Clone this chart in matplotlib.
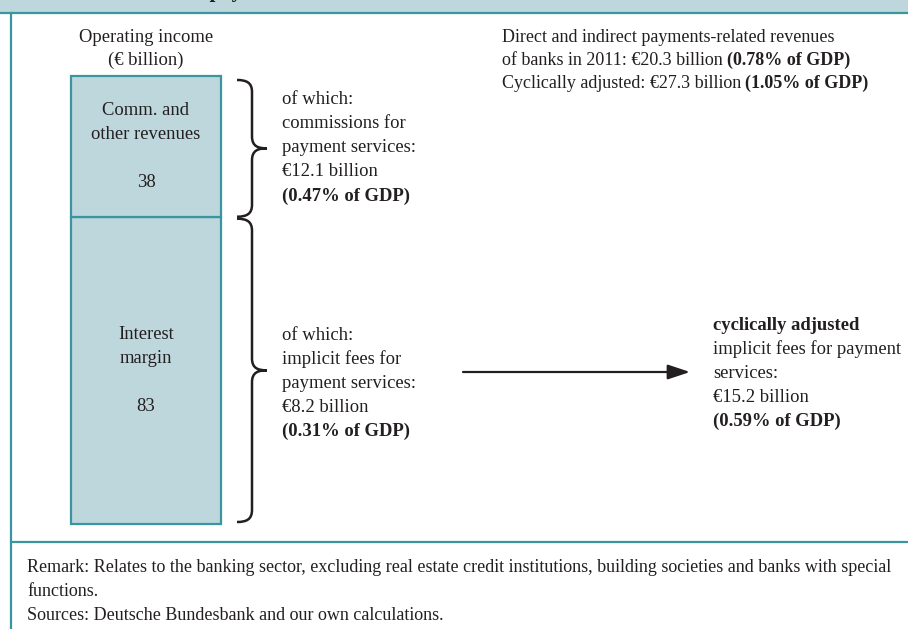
import matplotlib
matplotlib.use('Agg')
import matplotlib.pyplot as plt
from matplotlib.path import Path
from matplotlib.patches import PathPatch, Rectangle

plt.rcParams['font.family'] = ['Liberation Serif', 'DejaVu Serif']

# data
segments = ["Comm. and\nother revenues", "Interest\nmargin"]
values = [38, 83]
title = "Bank revenues from payment services"
head_lines = ["Operating income", "(\u20ac billion)"]
upper_note = ["of which:", "commissions for", "payment services:", "\u20ac12.1 billion", "(0.47% of GDP)"]
lower_note = ["of which:", "implicit fees for", "payment services:", "\u20ac8.2 billion", "(0.31% of GDP)"]
adj_note = ["cyclically adjusted", "implicit fees for payment", "services:", "\u20ac15.2 billion", "(0.59% of GDP)"]
top_right = [
    [("Direct and indirect payments-related revenues", "normal")],
    [("of banks in 2011: \u20ac20.3 billion", "normal"), ("(0.78% of GDP)", "bold")],
    [("Cyclically adjusted: \u20ac27.3 billion", "normal"), ("(1.05% of GDP)", "bold")],
]
remarks = ["Remark: Relates to the banking sector, excluding real estate credit institutions, building societies and banks with special",
           "functions.",
           "Sources: Deutsche Bundesbank and our own calculations."]

band = '#bdd7dc'
teal = '#3a969e'
ink = '#231f20'
fs = 13.4

W, H = 908, 629
fig = plt.figure(figsize=(W / 100, H / 100), dpi=100)
ax = fig.add_axes([0, 0, 1, 1])
ax.set_xlim(0, W)
ax.set_ylim(H, 0)
ax.axis('off')

# frame
ax.add_patch(Rectangle((0, 0), W, 13, color=band, lw=0))
ax.plot([0, W], [13, 13], color=teal, lw=1.6)
ax.plot([11, 11], [13, H], color=teal, lw=1.6)
ax.plot([11, W], [542, 542], color=teal, lw=1.6)
ax.text(24, -3.5, title, fontsize=15, fontweight='bold', color=ink, va='baseline')

# stacked bar
bar_top, bar_bot = 76, 524
bx = fig.add_axes([71 / W, 1 - bar_bot / H, 150 / W, (bar_bot - bar_top) / H])
total = sum(values)
bx.bar([0], [values[1]], width=1, color=band, edgecolor=teal, lw=1.6, clip_on=False)
bx.bar([0], [values[0]], bottom=[values[1]], width=1, color=band, edgecolor=teal, lw=1.6, clip_on=False)
bx.set_xlim(-0.5, 0.5)
bx.set_ylim(0, total)
bx.axis('off')
bx.text(0, values[1] + values[0] / 2, segments[0] + "\n\n" + str(values[0]),
        ha='center', va='center', fontsize=fs, color=ink, linespacing=1.55)
bx.text(0, values[1] / 2, segments[1] + "\n\n" + str(values[1]),
        ha='center', va='center', fontsize=fs, color=ink, linespacing=1.55)

ax.text(146, 49, "\n".join(head_lines), ha='center', va='center', fontsize=fs,
        color=ink, linespacing=1.5)

# braces next to the segments
k = (bar_bot - bar_top) / total
y_div = bar_top + values[0] * k


def brace(x0, y0, y1, w=30):
    xm = x0 + w * 0.5
    xt = x0 + w
    ym = (y0 + y1) / 2
    r = 12
    verts = [(x0, y0), (x0 + 10, y0), (xm, y0 + 3), (xm, y0 + r),
             (xm, ym - r),
             (xm, ym - 2), (xm + 6, ym), (xt, ym),
             (xm + 6, ym), (xm, ym + 2), (xm, ym + r),
             (xm, y1 - r),
             (xm, y1 - 3), (x0 + 10, y1), (x0, y1)]
    codes = [Path.MOVETO, Path.CURVE4, Path.CURVE4, Path.CURVE4,
             Path.LINETO,
             Path.CURVE4, Path.CURVE4, Path.CURVE4,
             Path.CURVE4, Path.CURVE4, Path.CURVE4,
             Path.LINETO,
             Path.CURVE4, Path.CURVE4, Path.CURVE4]
    ax.add_patch(PathPatch(Path(verts, codes), fill=False, ec=ink, lw=1.8))


brace(237, bar_top + 4, y_div)
brace(237, y_div + 2, bar_bot - 2)

# side notes
def note(x, y, lines, bold_first=False, bold_last=True):
    for i, s in enumerate(lines):
        bold = (i == len(lines) - 1 and bold_last) or (i == 0 and bold_first)
        ax.text(x, y + i * 24, s, fontsize=fs, color=ink, va='center',
                fontweight='bold' if bold else 'normal')


note(282, 100, upper_note)
note(282, 335, lower_note)
note(713, 325, adj_note, bold_first=True)

ax.annotate('', xy=(690, 372), xytext=(463, 372),
            arrowprops=dict(arrowstyle='-|>,head_length=1.35,head_width=0.45',
                            mutation_scale=10, color=ink, lw=1.6,
                            shrinkA=0, shrinkB=0))

# top-right text with bold parts
renderer = fig.canvas.get_renderer()
for i, parts in enumerate(top_right):
    x = 502
    for s, w in parts:
        t = ax.text(x, 42 + i * 23, s, fontsize=13, color=ink, fontweight=w, va='baseline')
        x += t.get_window_extent(renderer).width + 4

for i, s in enumerate(remarks):
    ax.text(27, 567 + i * 24, s, fontsize=13, color=ink, va='center')

fig.savefig('out.png', dpi=100)
